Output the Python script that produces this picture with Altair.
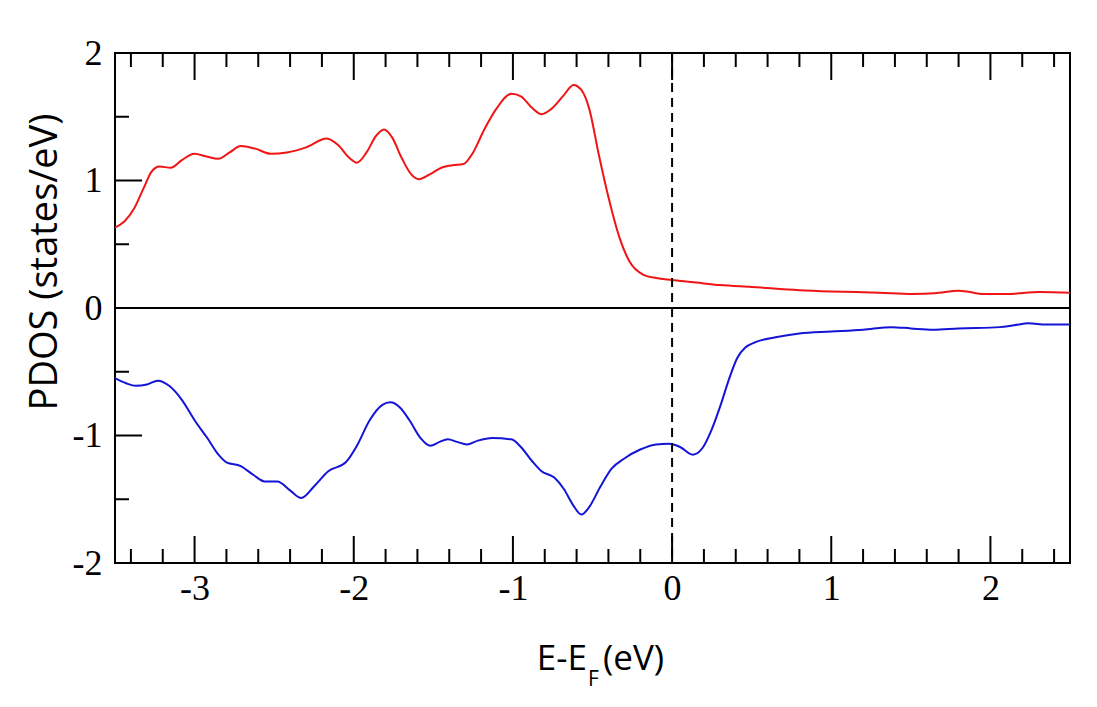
import altair as alt
import pandas as pd

# ---- data ----
red_energy = [-3.5, -3.44, -3.38, -3.32, -3.27, -3.22, -3.15, -3.08, -3.0, -2.93, -2.85, -2.78,
              -2.71, -2.62, -2.52, -2.42, -2.30, -2.17, -2.10, -2.03, -1.98, -1.92, -1.86, -1.81,
              -1.76, -1.70, -1.64, -1.59, -1.52, -1.45, -1.38, -1.31, -1.25, -1.18, -1.10, -1.01,
              -0.95, -0.88, -0.82, -0.76, -0.68, -0.62, -0.57, -0.52, -0.46, -0.40, -0.33, -0.27,
              -0.18, -0.10, 0.0, 0.15, 0.30, 0.50, 0.80, 1.00, 1.30, 1.51, 1.65, 1.80, 1.87, 1.95,
              2.10, 2.31, 2.50]
red_pdos = [0.63, 0.68, 0.78, 0.94, 1.07, 1.11, 1.10, 1.16, 1.21, 1.19, 1.17, 1.22,
            1.27, 1.25, 1.21, 1.22, 1.26, 1.33, 1.28, 1.18, 1.14, 1.22, 1.35, 1.40,
            1.34, 1.18, 1.05, 1.01, 1.05, 1.10, 1.12, 1.13, 1.22, 1.40, 1.57, 1.68,
            1.66, 1.57, 1.52, 1.56, 1.67, 1.75, 1.71, 1.56, 1.20, 0.87, 0.55, 0.37,
            0.26, 0.235, 0.22, 0.20, 0.18, 0.165, 0.14, 0.13, 0.12, 0.11, 0.115, 0.135, 0.125, 0.11,
            0.11, 0.125, 0.12]

blue_energy = [-3.5, -3.43, -3.37, -3.30, -3.23, -3.16, -3.08, -3.0, -2.92, -2.85, -2.80, -2.71,
               -2.63, -2.56, -2.48, -2.40, -2.33, -2.25, -2.16, -2.05, -1.98, -1.90, -1.82, -1.77,
               -1.71, -1.65, -1.58, -1.52, -1.46, -1.41, -1.35, -1.29, -1.22, -1.13, -1.01, -0.95,
               -0.88, -0.82, -0.74, -0.68, -0.62, -0.57, -0.52, -0.45, -0.38, -0.30, -0.20, -0.10,
               -0.02, 0.05, 0.13, 0.19, 0.25, 0.30, 0.36, 0.41, 0.46, 0.52, 0.65, 0.80, 1.00, 1.20,
               1.38, 1.50, 1.64, 1.80, 2.06, 2.15, 2.24, 2.35, 2.50]
blue_pdos = [-0.55, -0.59, -0.61, -0.60, -0.57, -0.61, -0.72, -0.88, -1.02, -1.15, -1.21, -1.24,
             -1.31, -1.36, -1.36, -1.43, -1.49, -1.40, -1.28, -1.21, -1.08, -0.88, -0.76, -0.74,
             -0.78, -0.88, -1.02, -1.08, -1.05, -1.03, -1.05, -1.07, -1.04, -1.02, -1.03, -1.09,
             -1.20, -1.28, -1.33, -1.42, -1.55, -1.62, -1.56, -1.40, -1.26, -1.18, -1.11, -1.07,
             -1.065, -1.09, -1.15, -1.10, -0.95, -0.78, -0.55, -0.39, -0.31, -0.27, -0.23, -0.20, -0.185, -0.17,
             -0.15, -0.16, -0.17, -0.16, -0.15, -0.135, -0.12, -0.13, -0.13]

x_tick_labels = [-3, -2, -1, 0, 1, 2]
x_minor_ticks = [-3.4, -3.2, -2.8, -2.6, -2.4, -2.2, -1.8, -1.6, -1.4, -1.2, -0.8, -0.6, -0.4, -0.2,
                 0.2, 0.4, 0.6, 0.8, 1.2, 1.4, 1.6, 1.8, 2.2, 2.4]
y_tick_labels = [-2, -1, 0, 1, 2]
y_minor_ticks = [-1.5, -0.5, 0.5, 1.5]

W, H = 955, 510
MAJ, MIN = 27, 14

xs = alt.Scale(domain=[-3.5, 2.5], nice=False, zero=False)
ys = alt.Scale(domain=[-2, 2], nice=False, zero=False)

df = pd.concat([
    pd.DataFrame({"E": red_energy, "P": red_pdos, "s": "up"}),
    pd.DataFrame({"E": blue_energy, "P": blue_pdos, "s": "down"}),
])

lab_expr = "datum.value < 0 ? '-' + abs(datum.value) : '' + datum.value"

xaxis = alt.Axis(values=x_tick_labels, title=None, grid=False, ticks=False, tickSize=0, domain=False,
                 labelFont="Liberation Serif", labelFontSize=36, labelPadding=8, labelColor="black",
                 labelExpr=lab_expr)
yaxis = alt.Axis(values=y_tick_labels, title=None, grid=False, ticks=False, tickSize=0, domain=False,
                 labelFont="Liberation Serif", labelFontSize=36, labelPadding=13, labelColor="black",
                 labelExpr=lab_expr)

lines = alt.Chart(df).mark_line(strokeWidth=2, interpolate="monotone").encode(
    x=alt.X("E:Q", scale=xs, axis=xaxis),
    y=alt.Y("P:Q", scale=ys, axis=yaxis),
    color=alt.Color("s:N", scale=alt.Scale(domain=["up", "down"], range=["#f01414", "#1414d8"]), legend=None),
    detail="s:N",
)

zero_line = alt.Chart(pd.DataFrame({"y": [0]})).mark_rule(color="black", strokeWidth=2).encode(
    y=alt.Y("y:Q", scale=ys))
fermi = alt.Chart(pd.DataFrame({"x": [0]})).mark_rule(color="black", strokeWidth=2, strokeDash=[9, 6]).encode(
    x=alt.X("x:Q", scale=xs))

xmaj = pd.DataFrame({"x": x_tick_labels})
xmin = pd.DataFrame({"x": x_minor_ticks})
ymaj = pd.DataFrame({"y": y_tick_labels})
ymin = pd.DataFrame({"y": y_minor_ticks})

def xticks(d, y0, y1):
    return alt.Chart(d).mark_rule(color="black", strokeWidth=2).encode(
        x=alt.X("x:Q", scale=xs), y=alt.value(y0), y2=alt.value(y1))

def yticks(d, ln):
    return alt.Chart(d).mark_rule(color="black", strokeWidth=2).encode(
        y=alt.Y("y:Q", scale=ys), x=alt.value(0), x2=alt.value(ln))

ticks = (xticks(xmaj, H, H - MAJ) + xticks(xmin, H, H - MIN) +
         xticks(xmaj, 0, MAJ) + xticks(xmin, 0, MIN) +
         yticks(ymaj, MAJ) + yticks(ymin, MIN))

title_font = "Open Sans"
ytitle = alt.Chart(pd.DataFrame({"t": ["PDOS (states/eV)"]})).mark_text(
    font=title_font, fontSize=38, angle=270, align="center", baseline="middle", color="black").encode(
    text="t:N", x=alt.value(-69), y=alt.value(209))
xt1 = alt.Chart(pd.DataFrame({"t": ["E-E"]})).mark_text(
    font=title_font, fontSize=35, align="right", baseline="alphabetic", color="black").encode(
    text="t:N", x=alt.value(472), y=alt.value(617))
xt2 = alt.Chart(pd.DataFrame({"t": ["F"]})).mark_text(
    font=title_font, fontSize=21, align="left", baseline="alphabetic", color="black").encode(
    text="t:N", x=alt.value(473), y=alt.value(633))
xt3 = alt.Chart(pd.DataFrame({"t": ["(eV)"]})).mark_text(
    font=title_font, fontSize=35, align="left", baseline="alphabetic", color="black").encode(
    text="t:N", x=alt.value(488), y=alt.value(617))

chart = alt.layer(lines, zero_line, fermi, ticks, ytitle, xt1, xt2, xt3).properties(
    width=W, height=H,
    autosize=alt.AutoSizeParams(type="none"),
    padding={"left": 107, "top": 45, "right": 19, "bottom": 130},
    background="white",
).configure_view(stroke="black", strokeWidth=2)

chart.save("out.html", embed_options={"renderer": "svg", "actions": False})
